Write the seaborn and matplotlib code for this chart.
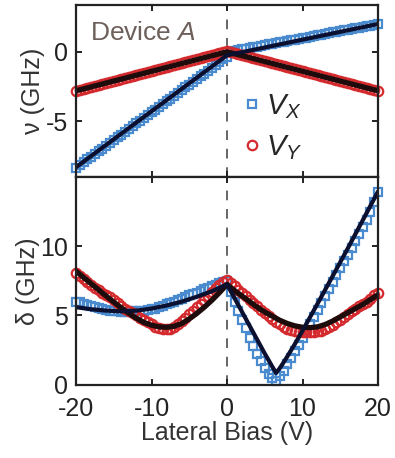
import numpy as np
import pandas as pd
import seaborn as sns
import matplotlib
matplotlib.use("Agg")
import matplotlib.pyplot as plt
from matplotlib.lines import Line2D

# ---------------- data ----------------
bias = np.arange(-20, 20.01, 0.5)

nu_x = [-8.35, -8.15, -7.93, -7.74, -7.55, -7.34, -7.15, -6.95, -6.76, -6.55,
        -6.35, -6.14, -5.95, -5.76, -5.55, -5.35, -5.15, -4.95, -4.76, -4.55,
        -4.35, -4.15, -3.95, -3.74, -3.55, -3.36, -3.15, -2.95, -2.76, -2.55,
        -2.35, -2.15, -1.95, -1.75, -1.56, -1.35, -1.15, -0.95, -0.76, -0.55,
        -0.35,
        0.02, 0.08, 0.13, 0.18, 0.23, 0.28, 0.33, 0.38, 0.43, 0.49,
        0.53, 0.58, 0.63, 0.69, 0.73, 0.79, 0.83, 0.88, 0.94, 0.98,
        1.03, 1.09, 1.13, 1.18, 1.24, 1.28, 1.33, 1.39, 1.43, 1.48,
        1.54, 1.58, 1.63, 1.69, 1.73, 1.78, 1.84, 1.88, 1.93, 1.98]

nu_y = [-2.80, -2.74, -2.66, -2.59, -2.52, -2.45, -2.38, -2.31, -2.24, -2.17,
        -2.09, -2.02, -1.95, -1.88, -1.81, -1.74, -1.67, -1.60, -1.52, -1.45,
        -1.38, -1.31, -1.24, -1.17, -1.10, -1.03, -0.95, -0.88, -0.81, -0.74,
        -0.67, -0.60, -0.53, -0.46, -0.39, -0.31, -0.24, -0.17, -0.10, -0.03,
        0.04,
        -0.04, -0.11, -0.18, -0.25, -0.32, -0.40, -0.47, -0.54, -0.61, -0.68,
        -0.75, -0.82, -0.89, -0.96, -1.04, -1.11, -1.18, -1.25, -1.32, -1.39,
        -1.46, -1.53, -1.60, -1.68, -1.75, -1.82, -1.89, -1.96, -2.03, -2.10,
        -2.17, -2.24, -2.32, -2.39, -2.46, -2.53, -2.60, -2.67, -2.74, -2.81]

fit_top_bias = [-20, 0, 20]
fit_nu_x = [-8.3, -0.25, 2.0]
fit_nu_y = [-2.8, 0.0, -2.8]

delta_x = [6.0, 5.95, 5.85, 5.75, 5.65, 5.6, 5.55, 5.45, 5.4, 5.35,
           5.3, 5.3, 5.25, 5.25, 5.25, 5.3, 5.3, 5.35, 5.35, 5.4,
           5.45, 5.5, 5.6, 5.7, 5.8, 5.9, 6.0, 6.1, 6.2, 6.3,
           6.45, 6.55, 6.65, 6.8, 6.9, 7.0, 7.1, 7.2, 7.35, 7.45,
           7.5,
           6.7, 6.0, 5.3, 4.7, 4.1, 3.4, 2.8, 2.2, 1.7, 1.2,
           0.8, 0.45, 0.3, 0.6, 1.0, 1.5, 1.9, 2.4, 2.9, 3.4,
           3.9, 4.4, 4.9, 5.4, 5.9, 6.4, 6.9, 7.4, 7.9, 8.4,
           8.9, 9.4, 9.9, 10.4, 10.9, 11.4, 11.9, 12.5, 13.2, 13.9]

delta_y = [8.1, 7.85, 7.6, 7.4, 7.2, 7.0, 6.85, 6.65, 6.5, 6.35,
           6.15, 5.9, 5.7, 5.5, 5.3, 5.15, 5.0, 4.8, 4.65, 4.5,
           4.35, 4.2, 4.1, 4.05, 4.0, 4.05, 4.15, 4.35, 4.6, 4.85,
           5.1, 5.35, 5.6, 5.85, 6.1, 6.4, 6.7, 6.95, 7.2, 7.4,
           7.55,
           7.35, 7.1, 6.85, 6.6, 6.4, 6.15, 5.9, 5.65, 5.4, 5.2,
           4.95, 4.75, 4.55, 4.35, 4.2, 4.05, 3.95, 3.85, 3.8, 3.8,
           3.8, 3.8, 3.8, 3.85, 3.9, 4.0, 4.15, 4.3, 4.5, 4.7,
           4.9, 5.1, 5.3, 5.45, 5.65, 5.8, 6.0, 6.2, 6.45, 6.65]

fit_dx_bias = [-20, -18, -16, -14, -12, -10, -8, -6, -4, -2,
               0, 1, 2, 3, 4, 5, 5.5, 6, 6.5, 7,
               7.5, 8, 9, 10, 11, 12, 14, 16, 18, 20]
fit_dx = [5.6, 5.45, 5.35, 5.3, 5.35, 5.5, 5.72, 6.0, 6.35, 6.75,
          7.25, 6.25, 5.25, 4.25, 3.25, 2.25, 1.78, 1.3, 0.85, 1.2,
          1.62, 2.05, 2.95, 3.9, 4.88, 5.86, 7.85, 9.85, 11.9, 13.95]

fit_dy_bias = list(range(-20, 21))
fit_dy = [8.2, 7.75, 7.3, 6.85, 6.4, 5.97, 5.55, 5.15, 4.8, 4.5,
          4.3, 4.18, 4.15, 4.22, 4.42, 4.75, 5.15, 5.6, 6.1, 6.65,
          7.25,
          6.8, 6.4, 6.0, 5.6, 5.25, 4.95, 4.65, 4.42, 4.25, 4.15,
          4.12, 4.18, 4.35, 4.6, 4.9, 5.2, 5.5, 5.8, 6.15, 6.5]

x_ticks = [-20, -10, 0, 10, 20]
top_yticks = [-5, 0]
bot_yticks = [0, 5, 10]

# ---------------- style ----------------
sns.set_theme(style="ticks")
plt.rcParams["font.family"] = ["Liberation Sans", "DejaVu Sans"]
plt.rcParams["mathtext.fontset"] = "custom"
plt.rcParams["mathtext.rm"] = "Liberation Sans"
plt.rcParams["mathtext.it"] = "Liberation Sans:italic"

BLUE = "#4a8bd0"
RED = "#d42a2e"
NAVY = "#0c1030"
DARK = "#1e0c0c"
FS = 18

fig = plt.figure(figsize=(3.95, 4.58), dpi=100)
ax_top = fig.add_axes([0.1924, 0.6135, 0.7646, 0.3766])
ax_bot = fig.add_axes([0.1924, 0.16, 0.7646, 0.4535])

df_top = pd.DataFrame({"bias": bias, "nu_x": nu_x, "nu_y": nu_y})
df_bot = pd.DataFrame({"bias": bias, "dx": delta_x, "dy": delta_y})

sq_kw = dict(marker="s", markersize=5.6, markerfacecolor="none",
             markeredgecolor=BLUE, markeredgewidth=1.6, linestyle="",
             estimator=None, clip_on=False)
ci_kw = dict(marker="o", markersize=6.8, markerfacecolor="none",
             markeredgecolor=RED, markeredgewidth=1.6, linestyle="",
             estimator=None, clip_on=False)

for ax in (ax_top, ax_bot):
    ax.axvline(0, color="#666666", lw=1.4, ls=(0, (5, 4.5)), zorder=0)

# top panel
sns.lineplot(data=df_top, x="bias", y="nu_x", ax=ax_top, color=BLUE, **sq_kw)
sns.lineplot(data=df_top, x="bias", y="nu_y", ax=ax_top, color=RED, **ci_kw)
sns.lineplot(x=fit_top_bias, y=fit_nu_y, ax=ax_top, color=DARK, lw=3.8, estimator=None)
sns.lineplot(x=fit_top_bias, y=fit_nu_x, ax=ax_top, color=NAVY, lw=3.0, estimator=None)

# bottom panel
sns.lineplot(data=df_bot, x="bias", y="dx", ax=ax_bot, color=BLUE, **sq_kw)
sns.lineplot(data=df_bot, x="bias", y="dy", ax=ax_bot, color=RED, **ci_kw)
sns.lineplot(x=fit_dy_bias, y=fit_dy, ax=ax_bot, color=DARK, lw=3.8, estimator=None)
sns.lineplot(x=fit_dx_bias, y=fit_dx, ax=ax_bot, color=NAVY, lw=3.0, estimator=None)

for ax in (ax_top, ax_bot):
    ax.set_xlim(-20, 20)
    ax.set_xticks(x_ticks)
    ax.tick_params(direction="in", length=4, width=1.4, top=True, right=True,
                   labelsize=FS, colors="#222222", pad=9)
    ax.tick_params(axis="y", pad=6)
    for s in ax.spines.values():
        s.set_linewidth(1.6)
        s.set_color("#222222")

ax_top.set_ylim(-9, 3.4)
ax_top.set_yticks(top_yticks)
ax_top.set_yticklabels([str(v) for v in top_yticks])
ax_top.tick_params(labelbottom=False)
ax_top.set_xlabel("")
ax_top.set_ylabel("ν (GHz)", fontsize=FS, color="#333333", labelpad=0)

ax_bot.set_ylim(0, 15)
ax_bot.set_yticks(bot_yticks)
ax_bot.set_xticklabels([str(v) for v in x_ticks])
ax_bot.set_xlabel("Lateral Bias (V)", fontsize=FS, color="#333333", labelpad=0)
ax_bot.set_ylabel("δ (GHz)", fontsize=FS, color="#333333", labelpad=0)

ax_top.text(0.046, 0.835, "Device $A$", transform=ax_top.transAxes,
            fontsize=19, color="#6d605b", va="center", ha="left")

handles = [Line2D([], [], marker="s", ls="", mfc="none", mec=BLUE, ms=5.6, mew=1.6),
           Line2D([], [], marker="o", ls="", mfc="none", mec=RED, ms=6.8, mew=1.6)]
ax_top.legend(handles, [r"$V_X$", r"$V_Y$"], loc="upper left",
              bbox_to_anchor=(0.553, 0.49), frameon=False, fontsize=21,
              handlelength=0.6, handletextpad=0.2, labelspacing=0.4,
              borderpad=0, borderaxespad=0)

fig.savefig("out.png", dpi=100)
